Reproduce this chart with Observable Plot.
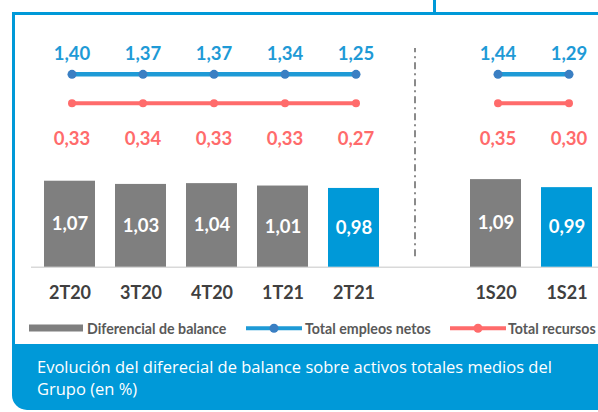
<!DOCTYPE html>
<html><head><meta charset="utf-8">
<script src="https://cdn.jsdelivr.net/npm/d3@7"></script>
<script src="https://cdn.jsdelivr.net/npm/@observablehq/plot@0.6"></script>
<style>
body{margin:0;background:#fff;font-family:Lato,sans-serif}
#wrap{position:relative;width:598px;height:412px;overflow:hidden;background:#fff}
#frame{position:absolute;left:12px;top:12px;width:620px;height:380px;border-left:3px solid #0099d8;border-top:3px solid #0099d8;box-sizing:border-box}
#tick{position:absolute;left:433px;top:0;width:3px;height:13px;background:#0099d8}
#chart{position:absolute;left:0;top:0}
#legend{position:absolute;left:0;top:319px;width:598px;height:18px;font-weight:bold;font-size:14.2px;color:#595959;white-space:nowrap}
#legend > *{position:absolute;top:50%;transform:translateY(-50%)}
#legend .sw{width:54px;height:7px;background:#7f7f7f}
#legend .ln{width:56px;height:3.5px}
#legend .ln i{position:absolute;left:50%;top:50%;width:9px;height:9px;border-radius:50%;transform:translate(-50%,-50%)}
#footer{position:absolute;left:12px;top:344px;width:620px;height:66px;background:#0099d8;border-bottom-left-radius:15px;color:#fff;font-family:"Open Sans",sans-serif;font-size:16.5px;line-height:22px;padding:12px 0 0 25px;box-sizing:border-box}
</style></head><body>
<div id="wrap">
  <div id="frame"></div><div id="tick"></div>
  <div id="chart"></div>
  <div id="legend"></div>
  <div id="footer"></div>
</div>
<script>
const categories = ["2T20","3T20","4T20","1T21","2T21","1S20","1S21"];
const groups = ["T","T","T","T","T","S","S"];
const diferencial = [1.07,1.03,1.04,1.01,0.98,1.09,0.99];
const empleos = [1.40,1.37,1.37,1.34,1.25,1.44,1.29];
const recursos = [0.33,0.34,0.33,0.33,0.27,0.35,0.30];
const highlight = [false,false,false,false,true,false,true];
const seriesNames = ["Diferencial de balance","Total empleos netos","Total recursos"];
const footerLines = ["Evolución del diferecial de balance sobre activos totales medios del","Grupo (en %)"];

const slots = ["2T20","3T20","4T20","1T21","2T21","_gap","1S20","1S21"];
const GRAY = "#7f7f7f", BLUE = "#0099d8", LBLUE = "#1e9ad6", DOTBLUE = "#3a7fc3", RED = "#ff6b6b";
const ROW = {empLabel: 2.65, empLine: 2.40, recLine: 2.04, recLabel: 1.60};
const rows = categories.map((c, i) => ({cat: c, group: groups[i], dif: diferencial[i], emp: empleos[i], rec: recursos[i], hl: highlight[i]}));
const fmt = v => d3.format(".2f")(v).replace(".", ",");

const chart = Plot.plot({
  width: 598, height: 312,
  marginTop: 1.5, marginBottom: 45.3, marginLeft: 0, marginRight: 0,
  style: {background: "transparent", fontFamily: "Lato, sans-serif", overflow: "visible"},
  x: {domain: slots, range: [31.4, 604], paddingInner: 0.287, paddingOuter: 0.1435, axis: null, label: null},
  y: {domain: [0, 3.3], axis: null},
  marks: [
    Plot.ruleY([0], {stroke: "#d9d9d9", strokeWidth: 1.5, insetLeft: 31}),
    Plot.barY(rows, {x: "cat", y: "dif", fill: d => d.hl ? BLUE : GRAY}),
    Plot.text(rows, {x: "cat", y: d => d.dif / 2, text: d => fmt(d.dif), fill: "white", fontSize: 18.5, fontWeight: "bold"}),
    Plot.ruleX(["_gap"], {x: d => d, y1: 0.13, y2: 2.72, dx: -10, stroke: "#8a8a8a", strokeWidth: 2, strokeDasharray: "7,4,2,4"}),
    Plot.line(rows, {x: "cat", y: () => ROW.empLine, z: "group", stroke: LBLUE, strokeWidth: 4.5, dx: 2}),
    Plot.dot(rows, {x: "cat", y: () => ROW.empLine, r: 4.5, fill: DOTBLUE, dx: 2}),
    Plot.text(rows, {x: "cat", y: () => ROW.empLabel, text: d => fmt(d.emp), fill: LBLUE, fontSize: 18.5, fontWeight: "bold", dx: 2}),
    Plot.line(rows, {x: "cat", y: () => ROW.recLine, z: "group", stroke: RED, strokeWidth: 4, dx: 2}),
    Plot.dot(rows, {x: "cat", y: () => ROW.recLine, r: 4, fill: RED, dx: 2}),
    Plot.text(rows, {x: "cat", y: () => ROW.recLabel, text: d => fmt(d.rec), fill: RED, fontSize: 18.5, fontWeight: "bold", dx: 2}),
    Plot.axisX(categories, {tickSize: 0, tickPadding: 19, fontSize: 18, fontWeight: "bold", fill: "#404040", label: null})
  ]
});
document.getElementById("chart").appendChild(chart);

const legend = document.getElementById("legend");
legend.innerHTML =
  `<span class="sw" style="left:29px"></span><span style="left:87px">${seriesNames[0]}</span>` +
  `<span class="ln" style="left:246px;background:${LBLUE}"><i style="background:${DOTBLUE}"></i></span><span style="left:305px">${seriesNames[1]}</span>` +
  `<span class="ln" style="left:450px;background:${RED}"><i style="background:${RED}"></i></span><span style="left:508px">${seriesNames[2]}</span>`;
document.getElementById("footer").innerHTML = footerLines.join("<br>");
</script>
</body></html>
